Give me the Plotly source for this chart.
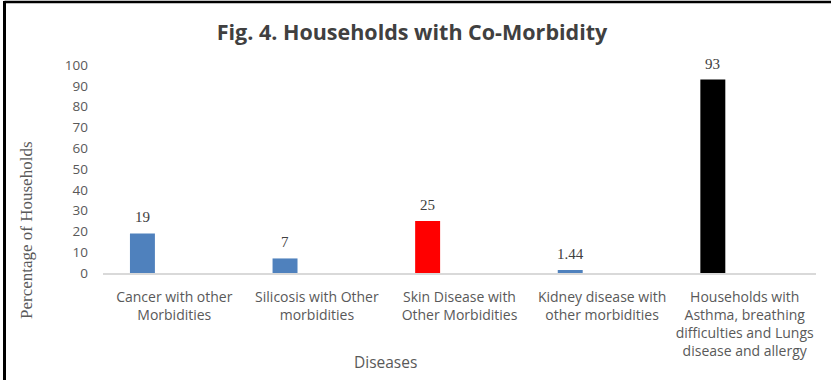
import plotly.graph_objects as go

categories = [
    "Cancer with other<br>Morbidities",
    "Silicosis with Other<br>morbidities",
    "Skin Disease with<br>Other Morbidities",
    "Kidney disease with<br>other morbidities",
    "Households with<br>Asthma, breathing<br>difficulties and Lungs<br>disease and allergy",
]
values = [19, 7, 25, 1.44, 93]
value_labels = ["19", "7", "25", "1.44", "93"]
bar_colors = ["#4F81BD", "#4F81BD", "#FF0000", "#4F81BD", "#000000"]
y_ticks = [0, 10, 20, 30, 40, 50, 60, 70, 80, 90, 100]

W, H = 831, 380
L, R, T, B = 103, 15, 65, 107
PW, PH = W - L - R, H - T - B

BAR_OFFSET = -0.311
BAR_WIDTH = 0.175

fig = go.Figure()
fig.add_trace(go.Bar(
    x=list(range(len(categories))),
    y=values,
    marker=dict(color=bar_colors, line=dict(width=0)),
    width=BAR_WIDTH,
    offset=BAR_OFFSET,
    hoverinfo="skip",
))

annotations = []
for i, (v, lab) in enumerate(zip(values, value_labels)):
    annotations.append(dict(
        x=i + BAR_OFFSET + BAR_WIDTH / 2, y=v, xref="x", yref="y",
        text=lab, showarrow=False, yanchor="middle", yshift=16,
        font=dict(family="Liberation Serif", size=15, color="#404040"),
    ))

def px_x(p):
    return (p - L) / PW

def px_y(p):
    return (H - B - p) / PH

annotations.append(dict(
    x=px_x(385), y=px_y(362), xref="paper", yref="paper",
    text="Diseases", showarrow=False, xanchor="center", yanchor="middle",
    font=dict(family="Open Sans", size=15.5, color="#595959"),
))
annotations.append(dict(
    x=px_x(26), y=px_y(230), xref="paper", yref="paper",
    text="Percentage of Households", showarrow=False, textangle=-90,
    xanchor="center", yanchor="middle",
    font=dict(family="Liberation Serif", size=17, color="#595959"),
))

shapes = [
    dict(type="line", xref="paper", yref="paper",
         x0=px_x(4.5), x1=px_x(W + 2), y0=px_y(2), y1=px_y(2),
         line=dict(color="#000000", width=2.5)),
    dict(type="line", xref="paper", yref="paper",
         x0=px_x(4.5), x1=px_x(4.5), y0=px_y(1), y1=px_y(H + 2),
         line=dict(color="#000000", width=3)),
]

fig.update_layout(
    width=W, height=H,
    margin=dict(l=L, r=R, t=T, b=B, pad=0),
    paper_bgcolor="white", plot_bgcolor="white",
    showlegend=False,
    title=dict(
        text="<b>Fig. 4. Households with Co-Morbidity</b>",
        x=412 / W, xanchor="center",
        y=1 - 32 / H, yanchor="middle", yref="container", xref="container",
        font=dict(family="Open Sans", size=21.5, color="#404040"),
    ),
    xaxis=dict(
        tickmode="array",
        tickvals=list(range(len(categories))),
        ticktext=categories,
        range=[-0.5, len(categories) - 0.5],
        showline=True, linecolor="#D9D9D9", linewidth=1.5,
        ticks="", showgrid=False, zeroline=False,
        tickfont=dict(family="Open Sans", size=14, color="#595959"),
        ticklabelstandoff=10,
    ),
    yaxis=dict(
        range=[0, 100],
        tickmode="array", tickvals=y_ticks,
        showline=False, showgrid=False, zeroline=False, ticks="",
        tickfont=dict(family="Open Sans", size=13.5, color="#595959"),
        ticklabelstandoff=14,
    ),
    annotations=annotations,
    shapes=shapes,
)

fig.write_html("out.html")
